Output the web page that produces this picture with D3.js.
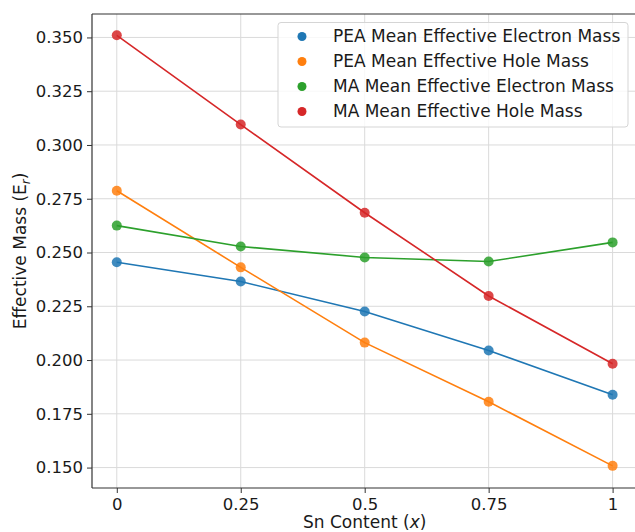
<!DOCTYPE html>
<html>
<head>
<meta charset="utf-8">
<script src="https://cdn.jsdelivr.net/npm/d3@7"></script>
<style>
  body { margin: 0; background: #fff; }
  svg text { font-family: "DejaVu Sans", sans-serif; fill: #1a1a1a; }
</style>
</head>
<body>
<div id="chart"></div>
<script>
//Data
var snContent = [0, 0.25, 0.5, 0.75, 1];
var xTickLabels = ["0", "0.25", "0.5", "0.75", "1"];
var yTicks = [0.150, 0.175, 0.200, 0.225, 0.250, 0.275, 0.300, 0.325, 0.350];
var peaElectron = [0.2455, 0.2365, 0.2226, 0.2044, 0.1839];
var peaHole = [0.2787, 0.2431, 0.2081, 0.1806, 0.1508];
var maElectron = [0.2625, 0.2528, 0.2477, 0.2458, 0.2547];
var maHole = [0.3510, 0.3095, 0.2685, 0.2298, 0.1983];
var seriesNames = ["PEA Mean Effective Electron Mass", "PEA Mean Effective Hole Mass",
                   "MA Mean Effective Electron Mass", "MA Mean Effective Hole Mass"];
var seriesColors = ["#1f77b4", "#ff7f0e", "#2ca02c", "#d62728"];

var series = [peaElectron, peaHole, maElectron, maHole].map(function (vals, i) {
    return {name: seriesNames[i], color: seriesColors[i], values: vals};
});

var width = 635, height = 532;
var margin = {left: 92, top: 14, right: -2.4, bottom: 44};

var svg = d3.select("#chart").append("svg")
    .attr("width", width)
    .attr("height", height);

var x = d3.scaleLinear()
    .domain([-0.05, 1.05])
    .range([margin.left, width - margin.right]);
var y = d3.scaleLinear()
    .domain([0.1405, 0.3609])
    .range([height - margin.bottom, margin.top]);

//Grid
var grid = svg.append("g").attr("class", "grid");
grid.selectAll("line.vx").data(snContent).enter().append("line")
    .attr("x1", function (d) { return x(d); })
    .attr("x2", function (d) { return x(d); })
    .attr("y1", y.range()[0]).attr("y2", y.range()[1])
    .attr("stroke", "#dadada").attr("stroke-width", 1);
grid.selectAll("line.hy").data(yTicks).enter().append("line")
    .attr("y1", function (d) { return y(d); })
    .attr("y2", function (d) { return y(d); })
    .attr("x1", x.range()[0]).attr("x2", x.range()[1])
    .attr("stroke", "#dadada").attr("stroke-width", 1);

//Axes
var xAxis = d3.axisBottom(x)
    .tickValues(snContent)
    .tickFormat(function (d, i) { return xTickLabels[i]; })
    .tickSize(5).tickPadding(5);
var yAxis = d3.axisLeft(y)
    .tickValues(yTicks)
    .tickFormat(d3.format(".3f"))
    .tickSize(5).tickPadding(4);

var gx = svg.append("g")
    .attr("transform", "translate(0," + y.range()[0] + ")")
    .call(xAxis);
var gy = svg.append("g")
    .attr("transform", "translate(" + margin.left + ",0)")
    .call(yAxis);
[gx, gy].forEach(function (g) {
    g.selectAll("path.domain").remove();
    g.selectAll("line").attr("stroke", "#333").attr("stroke-width", 1);
    g.selectAll("text").attr("font-size", 16.5)
        .attr("font-family", "DejaVu Sans").attr("fill", "#1a1a1a");
});

//Spines (left, bottom, top - right one sits outside the picture)
svg.append("line")
    .attr("x1", margin.left).attr("x2", margin.left)
    .attr("y1", y.range()[0]).attr("y2", y.range()[1])
    .attr("stroke", "#333").attr("stroke-width", 1.2);
svg.append("line")
    .attr("x1", margin.left).attr("x2", width)
    .attr("y1", y.range()[0]).attr("y2", y.range()[0])
    .attr("stroke", "#333").attr("stroke-width", 1.2);
svg.append("line")
    .attr("x1", margin.left).attr("x2", width)
    .attr("y1", y.range()[1]).attr("y2", y.range()[1])
    .attr("stroke", "#333").attr("stroke-width", 1.2);

//Lines and markers
var line = d3.line()
    .x(function (d, i) { return x(snContent[i]); })
    .y(function (d) { return y(d); });

var seriesG = svg.selectAll("g.series").data(series).enter()
    .append("g").attr("class", "series");
seriesG.append("path")
    .attr("d", function (d) { return line(d.values); })
    .attr("fill", "none")
    .attr("stroke", function (d) { return d.color; })
    .attr("stroke-width", 1.6);
seriesG.selectAll("circle")
    .data(function (d) { return d.values.map(function (v, i) { return {v: v, i: i, color: d.color}; }); })
    .enter().append("circle")
    .attr("cx", function (d) { return x(snContent[d.i]); })
    .attr("cy", function (d) { return y(d.v); })
    .attr("r", 5)
    .attr("fill", function (d) { return d.color; })
    .attr("fill-opacity", 0.85);

//Axis labels
var xl = svg.append("text")
    .attr("x", (x.range()[0] + x.range()[1]) / 2)
    .attr("y", 528)
    .attr("text-anchor", "middle")
    .attr("font-size", 17);
xl.append("tspan").text("Sn Content (");
xl.append("tspan").attr("font-style", "italic").text("x");
xl.append("tspan").text(")");

var yl = svg.append("text")
    .attr("transform", "translate(26," + (y.range()[0] + y.range()[1]) / 2 + ") rotate(-90)")
    .attr("text-anchor", "middle")
    .attr("font-size", 17);
yl.append("tspan").text("Effective Mass (E");
yl.append("tspan").attr("font-size", 12).attr("font-style", "italic").attr("dy", 4).text("r");
yl.append("tspan").attr("dy", -4).text(")");

//Legend
var legend = svg.append("g").attr("transform", "translate(278,22.5)");
legend.append("rect")
    .attr("width", 350).attr("height", 104.5)
    .attr("rx", 3)
    .attr("fill", "#fff").attr("fill-opacity", 0.8)
    .attr("stroke", "#d5d5d5").attr("stroke-width", 1);
var items = legend.selectAll("g.item").data(series).enter()
    .append("g")
    .attr("transform", function (d, i) { return "translate(0," + (14 + i * 25) + ")"; });
items.append("circle")
    .attr("cx", 24).attr("cy", 0).attr("r", 4.5)
    .attr("fill", function (d) { return d.color; });
items.append("text")
    .attr("x", 55).attr("dy", "0.35em")
    .attr("font-size", 17)
    .text(function (d) { return d.name; });
</script>
</body>
</html>
